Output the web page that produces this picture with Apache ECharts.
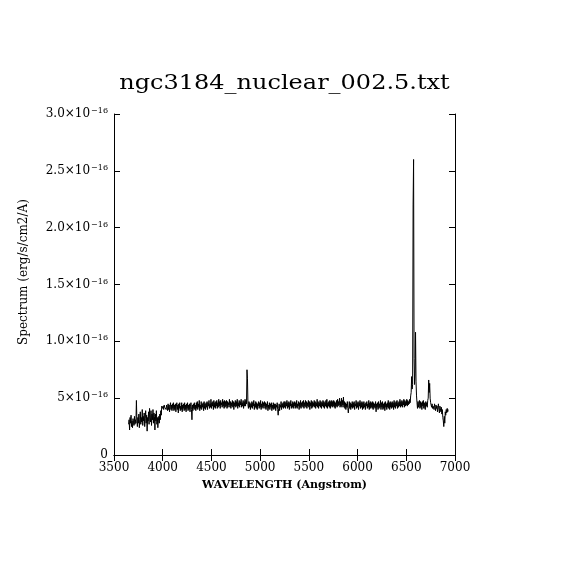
<!DOCTYPE html>
<html>
<head>
<meta charset="utf-8">
<script src="https://cdn.jsdelivr.net/npm/echarts@6/dist/echarts.min.js"></script>
<style>html,body{margin:0;padding:0;background:#fff}#chart{width:570px;height:570px}</style>
</head>
<body>
<div id="chart"></div>
<script>
// Spectrum sampled every 5 Angstrom starting at 3650 A; flux in units of 1e-16 erg/s/cm2/A
const titleText = 'ngc3184_nuclear_002.5.txt';
const xAxisTitle = 'WAVELENGTH (Angstrom)';
const yAxisTitle = 'Spectrum (erg/s/cm2/A)';
const wavelengthStart = 3650;
const wavelengthStep = 5;
const yTickLabels = {0: ['0', ''], 0.5: ['5\u00d710', '\u221216'], 1: ['1.0\u00d710', '\u221216'], 1.5: ['1.5\u00d710', '\u221216'], 2: ['2.0\u00d710', '\u221216'], 2.5: ['2.5\u00d710', '\u221216'], 3: ['3.0\u00d710', '\u221216']};
const flux = [
0.27,0.31,0.22,0.33,0.28,0.35,0.25,0.30,0.24,0.32,0.29,0.26,0.34,0.27,0.31,0.28,0.48,0.30,0.25,0.33,
0.28,0.36,0.24,0.31,0.38,0.27,0.33,0.29,0.40,0.26,0.34,0.30,0.37,0.25,0.32,0.39,0.28,0.35,0.21,0.33,
0.30,0.38,0.27,0.41,0.33,0.29,0.39,0.26,0.36,0.31,0.40,0.28,0.37,0.34,0.22,0.36,0.30,0.39,0.27,0.33,
0.24,0.30,0.34,0.28,0.36,0.31,0.39,0.35,0.43,0.44,0.41,0.43,0.40,0.44,0.42,0.41,0.43,0.40,0.44,0.42,
0.39,0.45,0.40,0.44,0.38,0.43,0.46,0.40,0.44,0.39,0.45,0.41,0.46,0.39,0.44,0.40,0.45,0.38,0.43,0.46,
0.40,0.44,0.37,0.45,0.41,0.46,0.39,0.43,0.40,0.46,0.38,0.44,0.41,0.45,0.39,0.46,0.40,0.44,0.38,0.45,
0.41,0.46,0.39,0.44,0.40,0.45,0.38,0.43,0.46,0.40,0.31,0.44,0.39,0.45,0.41,0.46,0.40,0.44,0.39,0.46,
0.41,0.47,0.40,0.45,0.42,0.48,0.39,0.44,0.41,0.47,0.40,0.45,0.42,0.46,0.39,0.47,0.41,0.45,0.40,0.46,
0.42,0.47,0.40,0.46,0.43,0.48,0.41,0.45,0.42,0.49,0.41,0.46,0.43,0.47,0.40,0.48,0.42,0.46,0.41,0.47,
0.43,0.48,0.41,0.46,0.42,0.49,0.43,0.47,0.41,0.48,0.44,0.46,0.42,0.49,0.43,0.47,0.41,0.48,0.42,0.47,
0.43,0.48,0.41,0.47,0.42,0.46,0.44,0.49,0.42,0.47,0.41,0.46,0.43,0.48,0.42,0.47,0.40,0.46,0.43,0.48,
0.42,0.47,0.43,0.49,0.41,0.46,0.43,0.48,0.42,0.47,0.44,0.49,0.42,0.46,0.43,0.48,0.41,0.47,0.43,0.49,
0.43,0.48,0.45,0.75,0.67,0.44,0.41,0.47,0.42,0.46,0.40,0.45,0.42,0.47,0.41,0.46,0.43,0.48,0.40,0.45,
0.42,0.47,0.41,0.46,0.40,0.45,0.43,0.47,0.41,0.46,0.42,0.48,0.40,0.45,0.42,0.47,0.41,0.46,0.43,0.47,
0.41,0.46,0.40,0.45,0.42,0.47,0.39,0.44,0.41,0.46,0.40,0.45,0.42,0.46,0.39,0.44,0.41,0.46,0.40,0.45,
0.41,0.45,0.39,0.44,0.42,0.46,0.40,0.35,0.41,0.45,0.39,0.44,0.42,0.47,0.40,0.45,0.42,0.46,0.41,0.47,
0.42,0.47,0.41,0.46,0.43,0.48,0.41,0.46,0.42,0.47,0.40,0.46,0.43,0.48,0.41,0.45,0.42,0.47,0.41,0.46,
0.43,0.47,0.41,0.46,0.42,0.48,0.41,0.45,0.43,0.47,0.40,0.46,0.42,0.48,0.41,0.46,0.43,0.47,0.42,0.48,
0.41,0.46,0.43,0.48,0.42,0.47,0.41,0.46,0.43,0.48,0.42,0.47,0.40,0.46,0.43,0.48,0.41,0.47,0.42,0.46,
0.43,0.48,0.42,0.47,0.41,0.46,0.43,0.49,0.42,0.47,0.41,0.46,0.43,0.48,0.42,0.47,0.41,0.46,0.43,0.48,
0.42,0.47,0.41,0.46,0.43,0.48,0.42,0.49,0.41,0.46,0.43,0.47,0.42,0.48,0.41,0.47,0.43,0.48,0.42,0.47,
0.43,0.48,0.42,0.47,0.41,0.46,0.43,0.48,0.42,0.49,0.43,0.47,0.44,0.50,0.42,0.47,0.43,0.50,0.42,0.48,
0.44,0.51,0.42,0.47,0.41,0.46,0.40,0.45,0.42,0.47,0.41,0.37,0.42,0.47,0.41,0.46,0.40,0.45,0.42,0.47,
0.41,0.46,0.42,0.47,0.40,0.45,0.43,0.48,0.41,0.46,0.42,0.47,0.40,0.46,0.43,0.48,0.41,0.46,0.42,0.47,
0.40,0.46,0.41,0.47,0.42,0.45,0.40,0.46,0.43,0.47,0.41,0.45,0.42,0.48,0.40,0.46,0.41,0.47,0.42,0.46,
0.41,0.47,0.40,0.46,0.42,0.45,0.41,0.47,0.38,0.45,0.42,0.46,0.40,0.47,0.41,0.45,0.42,0.48,0.40,0.46,
0.42,0.47,0.40,0.45,0.41,0.46,0.39,0.47,0.42,0.45,0.40,0.46,0.42,0.48,0.41,0.46,0.40,0.47,0.42,0.46,
0.41,0.47,0.42,0.46,0.40,0.48,0.42,0.46,0.41,0.47,0.43,0.48,0.41,0.46,0.42,0.47,0.43,0.49,0.42,0.47,
0.43,0.48,0.42,0.47,0.44,0.49,0.42,0.48,0.43,0.47,0.44,0.49,0.43,0.48,0.44,0.47,0.45,0.49,0.46,0.52,
0.55,0.69,0.58,0.62,2.20,2.60,0.85,0.62,0.72,1.08,0.65,0.52,0.46,0.41,0.47,0.42,0.46,0.48,0.41,0.47,
0.42,0.46,0.40,0.47,0.43,0.48,0.41,0.46,0.42,0.40,0.47,0.43,0.46,0.42,0.48,0.50,0.66,0.55,0.63,0.50,
0.46,0.44,0.42,0.45,0.41,0.43,0.44,0.40,0.45,0.42,0.39,0.44,0.41,0.43,0.38,0.42,0.45,0.40,0.37,0.43,
0.41,0.38,0.42,0.36,0.40,0.33,0.30,0.25,0.34,0.28,0.38,0.35,0.40,0.37,0.41,0.38,0.40
];

const seriesData = flux.map((v, i) => [wavelengthStart + i * wavelengthStep, v]);
const FONT = 'DejaVu Serif';
const chart = echarts.init(document.getElementById('chart'), null, {renderer: 'canvas'});
const axisCommon = {
  type: 'value', min: 3500, max: 7000, interval: 500,
  axisLine: {show: true, lineStyle: {color: '#000', width: 1}},
  axisTick: {show: true, inside: true, length: 6, lineStyle: {color: '#000', width: 1}},
  splitLine: {show: false}
};
const yCommon = {
  type: 'value', min: 0, max: 3, interval: 0.5,
  axisLine: {show: true, lineStyle: {color: '#000', width: 1}},
  axisTick: {show: true, inside: true, length: 6, lineStyle: {color: '#000', width: 1}},
  splitLine: {show: false}
};
chart.setOption({
  animation: false,
  backgroundColor: '#fff',
  grid: {left: 114, right: 115, top: 114, bottom: 115, containLabel: false},
  xAxis: [
    Object.assign({}, axisCommon, {
      position: 'bottom',
      axisLabel: {show: true, color: '#000', fontFamily: FONT, fontSize: 12, margin: 7, formatter: function (v) { return String(v); }},
      name: xAxisTitle, nameLocation: 'middle', nameGap: 25,
      nameTextStyle: {color: '#000', fontFamily: FONT, fontSize: 11, fontWeight: 'bold'}
    }),
    Object.assign({}, axisCommon, {position: 'top', axisLabel: {show: false}})
  ],
  yAxis: [
    Object.assign({}, yCommon, {
      position: 'left',
      axisLabel: {
        show: true, margin: 6,
        formatter: function (v) {
          const t = yTickLabels[v];
          if (!t) return '';
          return t[1] ? '{b|' + t[0] + '}{s|' + t[1] + '}' : '{b|' + t[0] + '}';
        },
        rich: {
          b: {color: '#000', fontFamily: FONT, fontSize: 12, lineHeight: 14},
          s: {color: '#000', fontFamily: FONT, fontSize: 8, verticalAlign: 'top', lineHeight: 14, padding: [0, 0, 8, 1]}
        }
      }
    }),
    Object.assign({}, yCommon, {position: 'right', axisLabel: {show: false}})
  ],
  graphic: [
    {type: 'text', x: 284.5, y: 74, scaleX: 1.2, style: {text: titleText, fill: '#000', font: '20px "DejaVu Serif"', align: 'center', verticalAlign: 'top'}},
    {type: 'text', x: 18, y: 272, rotation: Math.PI / 2, style: {text: yAxisTitle, fill: '#000', font: '12px "DejaVu Serif"', align: 'center', verticalAlign: 'top'}}
  ],
  series: [{
    type: 'line', data: seriesData, xAxisIndex: 0, yAxisIndex: 0,
    showSymbol: false, symbol: 'none', sampling: null,
    lineStyle: {color: '#000', width: 1}, itemStyle: {color: '#000'}
  }]
});
</script>
</body>
</html>
